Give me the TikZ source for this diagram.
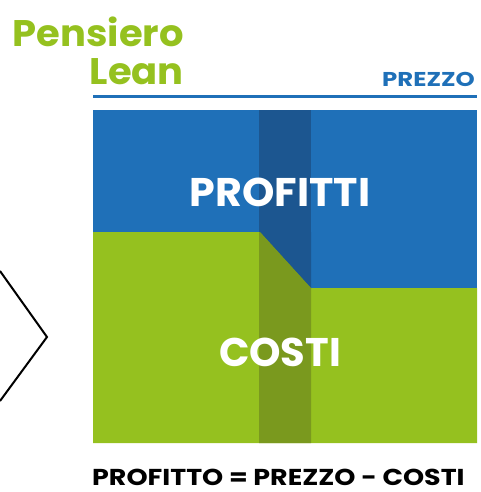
\documentclass[tikz,border=0pt]{standalone}
\usepackage{fontspec}
\setmainfont{Poppins}
\definecolor{leanblue}{HTML}{1F70B8}
\definecolor{leandarkblue}{HTML}{1C5690}
\definecolor{leangreen}{HTML}{95C11F}
\definecolor{leandarkgreen}{HTML}{7A991E}
\newcommand{\wideby}[1]{\addfontfeatures{FakeStretch=#1}}
\begin{document}
\begin{tikzpicture}[x=1pt,y=-1pt,
  txt/.style={inner sep=0pt,font=\bfseries},
  chev/.style={draw=black,line width=2pt}]
\useasboundingbox (0,0) rectangle (481,492);
% title
\node[txt,anchor=base east,text=leangreen,font=\fontsize{37}{37}\selectfont\bfseries\wideby{1.04}] (t1) at (184,47) {Pensiero};
\node[txt,anchor=base east,text=leangreen,font=\fontsize{37}{37}\selectfont\bfseries\wideby{1.04}] (t2) at (184,85) {Lean};
\node[txt,anchor=base east,text=leanblue,font=\fontsize{20}{20}\selectfont\bfseries\wideby{1.22}] (prezzo) at (475,86.5) {PREZZO};
\fill[leanblue] (93,95) rectangle (477,98);
% blocks
\fill[leanblue] (93,110) rectangle (477,443);
\fill[leangreen] (93,232) -- (260,232) -- (311,288) -- (477,288) -- (477,443) -- (93,443) -- cycle;
\fill[leandarkblue] (259,110) rectangle (311,288);
\fill[leandarkgreen] (259,232) -- (260,232) -- (311,288) -- (311,443) -- (259,443) -- cycle;
\fill[leandarkblue] (260,232) -- (311,288) -- (311,232) -- cycle;
\fill[leandarkgreen] (259,232) -- (260,232) -- (311,288.1) -- (259,288) -- cycle;
% labels
\node[txt,anchor=base,text=white,font=\fontsize{40}{40}\selectfont\bfseries\wideby{1.03}] (prof) at (280,206) {PROFITTI};
\node[txt,anchor=base,text=white,font=\fontsize{40}{40}\selectfont\bfseries] (cost) at (280,366) {COSTI};
% chevron
\coordinate (c1) at (0,271);
\coordinate (c2) at (47,337);
\coordinate (c3) at (0,401);
\draw[chev,line join=miter] (c1) -- (c2) -- (c3);
% formula
\node[txt,anchor=base west,text=black,text depth=0pt,font=\fontsize{23}{23}\selectfont\bfseries\wideby{1.17}] (form) at (92,485) {PROFITTO = PREZZO - COSTI};
\end{tikzpicture}
\end{document}
